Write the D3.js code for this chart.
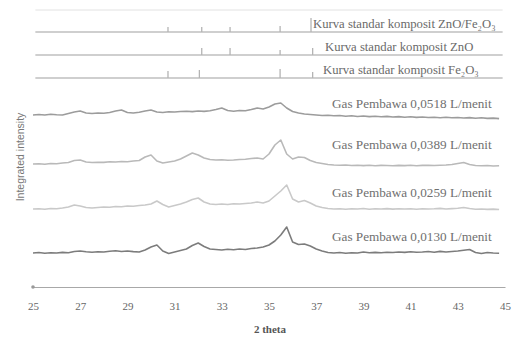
<!DOCTYPE html>
<html>
<head>
<meta charset="utf-8">
<script src="https://cdn.jsdelivr.net/npm/d3@7"></script>
<style>
  body { margin: 0; background: #fff; }
  svg { display: block; }
</style>
</head>
<body>
<div id="chart"></div>
<script>
// 2 theta grid of the measured patterns (step 0.25 deg, 25.00 .. 44.75)
const thetaStart = 25;
const thetaStep = 0.25;

// integrated intensity (arbitrary units, offset per pattern)
const gas0518 = [172, 172.5, 172, 172.8, 172.3, 172, 173.5, 175, 176, 174,
  173.5, 174, 173.8, 174.5, 176, 177, 174.5, 174, 174.8, 176,
  177, 175, 174.5, 175.2, 175, 175.5, 175.8, 175.4, 176, 175.6,
  176.3, 177.5, 179, 176.5, 175.8, 176.5, 176.2, 177.5, 179, 178,
  180, 183, 184, 179, 175.5, 174, 173, 172.5, 172, 171.5,
  171.8, 171.2, 171.5, 170.8, 171.2, 170.5, 171, 170.4, 170.8, 170.2,
  170.6, 170, 170.4, 169.8, 170.2, 169.6, 170, 169.5, 169.8, 169.3,
  169.7, 169.2, 169.5, 169, 169.4, 168.8, 169.2, 168.6, 168.9, 168.4];

const gas0389 = [123, 123.3, 122.8, 123.5, 123.2, 124, 124.5, 126.5, 127, 125,
  124.5, 124.8, 124.6, 125.2, 125, 125.5, 125.3, 126, 126.5, 130,
  132, 126, 124, 125, 126, 128, 131, 134, 132, 129,
  127.5, 127, 127.2, 126.8, 127, 127.5, 127.8, 128.5, 129, 128,
  133, 142, 147, 133, 128, 130, 129.5, 126.5, 124.5, 123.5,
  122.5, 122, 121.8, 122, 121.5, 121.8, 121.4, 121.7, 121.3, 121.6,
  121.5, 121.2, 121.6, 121.4, 121.7, 121.3, 121.6, 121.8, 121.5, 121.8,
  122, 122.5, 123.5, 124.5, 122.5, 121.5, 121.2, 121.5, 121, 121.3];

const gas0259 = [78, 78.3, 77.8, 78.5, 78.2, 79, 80, 82, 81, 79.5,
  79, 79.5, 80, 79.8, 80.5, 80.2, 81, 80.8, 81.5, 82,
  83, 86, 82.5, 80, 81.5, 83, 85, 87.5, 89, 85,
  83, 82.5, 83, 82.5, 83.2, 83, 83.5, 84, 85, 84,
  86, 91, 96, 102, 88, 85, 86.5, 84, 81, 79.5,
  78.5, 78, 78.3, 77.8, 78.2, 78, 78.5, 77.8, 78.2, 78,
  78.4, 77.9, 78.3, 78, 78.2, 77.8, 78.3, 78, 78.2, 78.6,
  78, 78.4, 78.8, 79.5, 78.5, 77.8, 78, 77.6, 77.9, 77.5];

const gas0130 = [34, 34.5, 33.8, 34.2, 34, 34.6, 34.3, 35.5, 36, 35.2,
  34.8, 35.3, 35, 35.8, 36.2, 35.5, 36, 35.4, 35, 37,
  40, 42, 36, 33.5, 35, 36.5, 38, 41.5, 44, 40.5,
  38, 37.5, 37, 37.8, 37.2, 38, 37.5, 38.5, 39, 40,
  42, 46, 52, 60, 45, 42.5, 43, 41, 38, 36,
  34.5, 34, 34.5, 33.8, 34.3, 34, 35, 34.2, 34.6, 34.3,
  34.8, 34.5, 35, 34.6, 35.2, 34.8, 35, 35.5, 34.8, 35.6,
  35, 35.5, 36, 36.8, 37.5, 34.5, 33.5, 34.5, 34, 33.8];

const seriesNames = ["Gas Pembawa 0,0518 L/menit", "Gas Pembawa 0,0389 L/menit",
  "Gas Pembawa 0,0259 L/menit", "Gas Pembawa 0,0130 L/menit"];
const seriesValues = [gas0518, gas0389, gas0259, gas0130];

// standard (stick) patterns: base level, peak positions and heights
const standardNames = ["Kurva standar komposit ZnO/Fe\u2082O\u2083",
  "Kurva standar komposit ZnO", "Kurva standar komposit Fe\u2082O\u2083"];
const standardBase = [255, 232, 209];
const standardPeaks = [
  [30.72, 32.15, 33.35, 35.47, 36.78],
  [32.15, 33.35, 35.47, 36.85],
  [30.72, 32.05, 35.47, 36.85]
];
const standardHeights = [
  [5, 5, 5, 6, 14],
  [7, 7, 5, 7],
  [7, 8, 9, 6]
];
const topLevel = 277;

const xTicks = [25, 27, 29, 31, 33, 35, 37, 39, 41, 43, 45];

const width = 517, height = 338;
const svg = d3.select("#chart").append("svg")
  .attr("width", width).attr("height", height);

const x = d3.scaleLinear().domain([25, 45]).range([33, 505]);
const y = d3.scaleLinear().domain([0, 277]).range([287, 10]);

const serif = "'Liberation Serif', 'Times New Roman', serif";
const seriesColors = ["#9c9c9c", "#b9b9b9", "#c9c9c9", "#7c7c7c"];

// top frame line
svg.append("line")
  .attr("x1", x(25.1)).attr("x2", x(44.9))
  .attr("y1", y(topLevel)).attr("y2", y(topLevel))
  .attr("stroke", "#e2e2e2").attr("stroke-width", 1);

// standard lines with sticks
standardNames.forEach((name, i) => {
  svg.append("line")
    .attr("x1", x(25.1)).attr("x2", x(44.9))
    .attr("y1", y(standardBase[i])).attr("y2", y(standardBase[i]))
    .attr("stroke", "#a0a0a0").attr("stroke-width", 1.1);

  svg.append("g").selectAll("line")
    .data(standardPeaks[i])
    .join("line")
    .attr("x1", d => x(d)).attr("x2", d => x(d))
    .attr("y1", y(standardBase[i]))
    .attr("y2", (d, j) => y(standardBase[i] + standardHeights[i][j]))
    .attr("stroke", "#b4b4b4").attr("stroke-width", 1.3);
});

const labelX = [313, 325, 323];
standardNames.forEach((name, i) => {
  svg.append("text")
    .attr("x", labelX[i])
    .attr("y", y(standardBase[i]) - 8)
    .attr("dy", "0.35em")
    .attr("font-family", serif)
    .attr("font-size", "12.7px")
    .attr("fill", "#6a6a6a")
    .text(name);
});

// measured patterns
const line = d3.line()
  .x((d, i) => x(thetaStart + i * thetaStep))
  .y(d => y(d));

seriesValues.forEach((vals, i) => {
  svg.append("path")
    .datum(vals)
    .attr("d", line)
    .attr("fill", "none")
    .attr("stroke", seriesColors[i])
    .attr("stroke-width", 1.6)
    .attr("stroke-linejoin", "round");
});

const seriesLabelY = [103, 144, 192, 236];
seriesNames.forEach((name, i) => {
  svg.append("text")
    .attr("x", 332)
    .attr("y", seriesLabelY[i])
    .attr("dy", "0.35em")
    .attr("font-family", serif)
    .attr("font-size", "13.2px")
    .attr("fill", "#707070")
    .text(name);
});

// x axis
const xAxis = d3.axisBottom(x)
  .tickValues(xTicks)
  .tickSize(0)
  .tickPadding(15)
  .tickFormat(d3.format("d"));

const axisG = svg.append("g")
  .attr("transform", `translate(0,${y(0)})`)
  .call(xAxis);
axisG.select(".domain").attr("stroke", "#a8a8a8").attr("stroke-width", 1.2);
axisG.selectAll("text")
  .attr("font-family", serif)
  .attr("font-size", "11px")
  .attr("fill", "#666");

svg.append("circle")
  .attr("cx", x(25)).attr("cy", y(0)).attr("r", 1.8)
  .attr("fill", "#999");

svg.append("text")
  .attr("x", 270).attr("y", 333)
  .attr("text-anchor", "middle")
  .attr("font-family", serif)
  .attr("font-weight", "bold")
  .attr("font-size", "11px")
  .attr("fill", "#555")
  .text("2 theta");

svg.append("text")
  .attr("transform", "translate(20,157) rotate(-90)")
  .attr("text-anchor", "middle")
  .attr("dy", "0.35em")
  .attr("font-family", "'Liberation Sans', Arial, sans-serif")
  .attr("font-size", "10.5px")
  .attr("fill", "#777")
  .text("Integrated intensity");
</script>
</body>
</html>
